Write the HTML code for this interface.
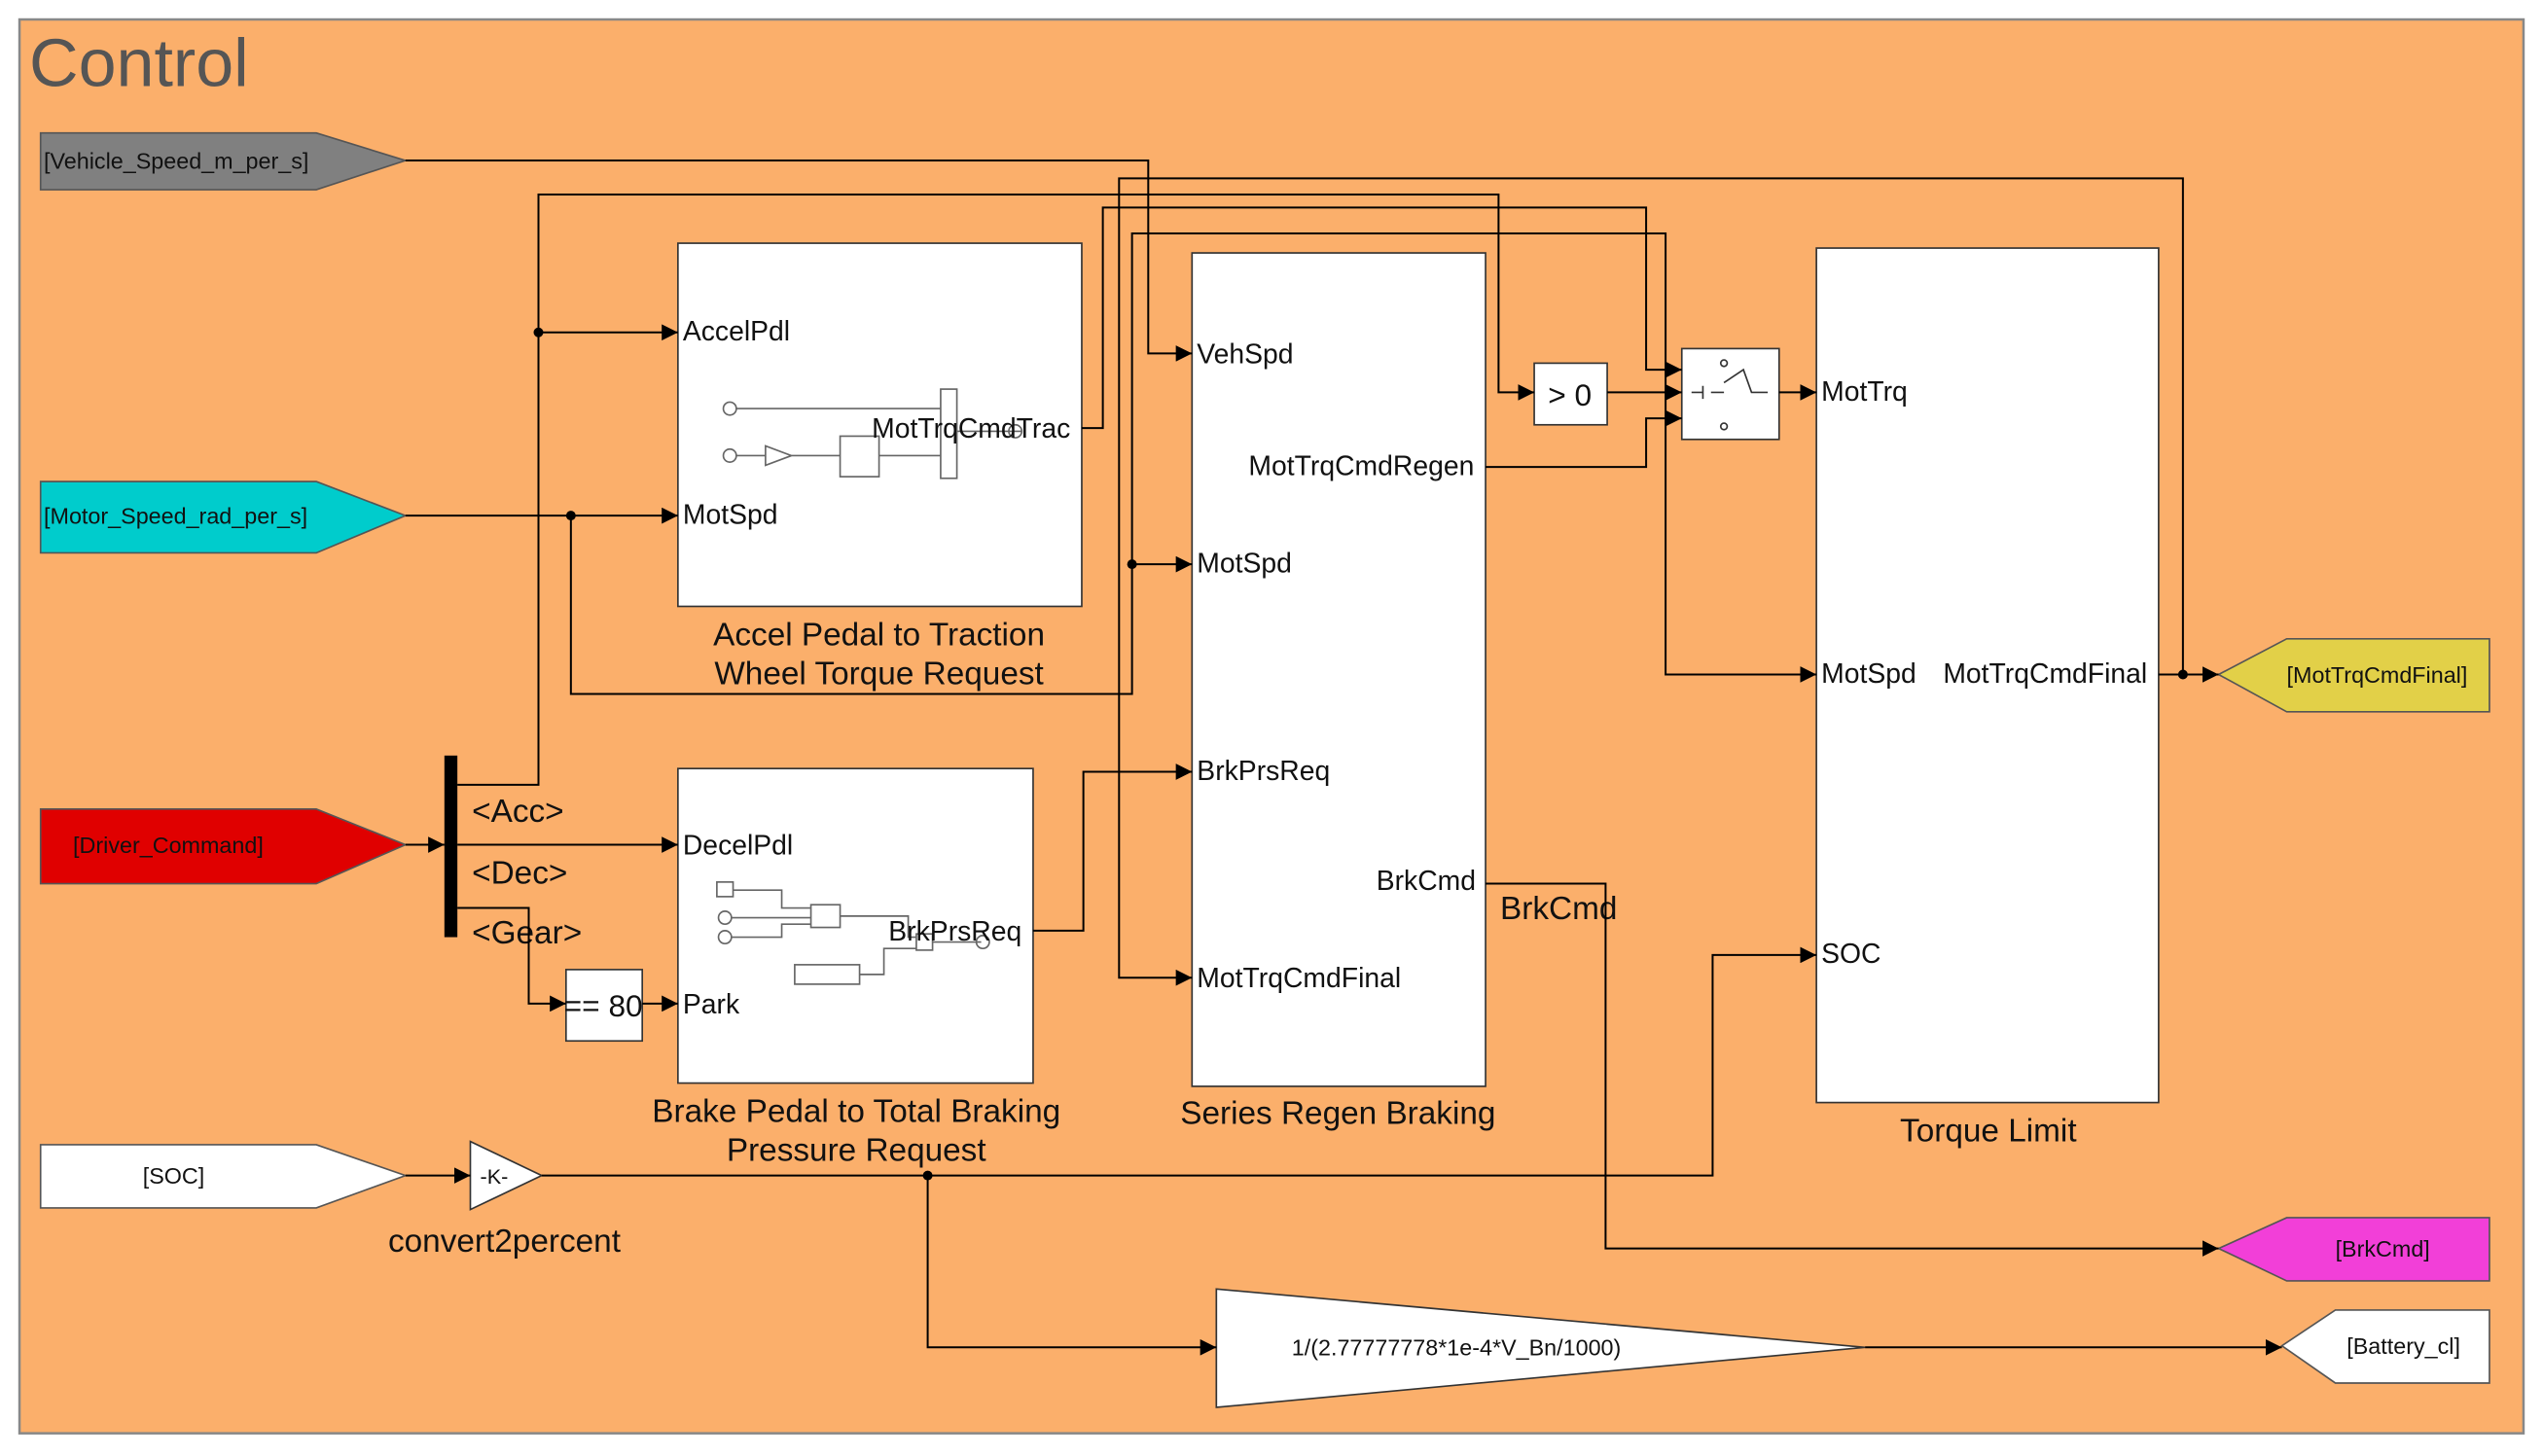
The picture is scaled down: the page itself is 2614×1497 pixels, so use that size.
<!DOCTYPE html>
<html><head><meta charset="utf-8"><style>
html,body{margin:0;padding:0;background:#fff;}
svg{display:block;}
text{font-family:"Liberation Sans",Arial,sans-serif;fill:#111;}
</style></head><body>
<svg width="2614" height="1497" viewBox="0 0 1568 898" xmlns="http://www.w3.org/2000/svg">
<defs>
<marker id="a" viewBox="0 0 10 10" refX="10" refY="5" markerWidth="10" markerHeight="10" orient="auto" markerUnits="userSpaceOnUse">
<path d="M0,0 L10,5 L0,10 z" fill="#000"/></marker>
</defs>
<rect x="12" y="12" width="1544" height="872" fill="#FBAF6B" stroke="#888" stroke-width="1.5"/>
<text x="18" y="53" font-size="42" style="fill:#555">Control</text>

<polygon points="25,82 195,82 250,99 195,117 25,117" fill="#808080" stroke="#555"/>
<text x="27" y="104" font-size="14">[Vehicle_Speed_m_per_s]</text>
<polygon points="25,297 195,297 250,318 195,341 25,341" fill="#00CCCC" stroke="#555"/>
<text x="27" y="323" font-size="14">[Motor_Speed_rad_per_s]</text>
<polygon points="25,499 195,499 250,521 195,545 25,545" fill="#E00000" stroke="#555"/>
<text x="45" y="526" font-size="14">[Driver_Command]</text>
<polygon points="25,706 195,706 250,725 195,745 25,745" fill="#fff" stroke="#555"/>
<text x="88" y="730" font-size="14">[SOC]</text>

<polygon points="1368,416 1410,394 1535,394 1535,439 1410,439" fill="#E2D048" stroke="#555"/>
<text x="1410" y="421" font-size="14">[MotTrqCmdFinal]</text>
<polygon points="1368,770 1410,751 1535,751 1535,790 1410,790" fill="#F23FD8" stroke="#555"/>
<text x="1440" y="775" font-size="14">[BrkCmd]</text>
<polygon points="1407,830 1440,808 1535,808 1535,853 1440,853" fill="#fff" stroke="#555"/>
<text x="1447" y="835" font-size="14">[Battery_cl]</text>

<rect x="418" y="150" width="249" height="224" fill="#fff" stroke="#333"/>
<g stroke="#666" fill="none" stroke-width="1">
<circle cx="450" cy="252" r="4"/><circle cx="450" cy="281" r="4"/>
<path d="M454,252 H580 M454,281 H472 L472,275 L488,281 L472,287 L472,281 M488,281 H518"/>
<rect x="518" y="269" width="24" height="25"/><rect x="580" y="240" width="10" height="55"/>
<path d="M542,281 H580 M590,266 H630"/><circle cx="626" cy="266" r="4"/>
</g>
<text x="421" y="210" font-size="17">AccelPdl</text>
<text x="421" y="323" font-size="17">MotSpd</text>
<text x="660" y="270" font-size="17" text-anchor="end">MotTrqCmdTrac</text>
<text x="542" y="398" font-size="20" text-anchor="middle">Accel Pedal to Traction</text>
<text x="542" y="422" font-size="20" text-anchor="middle">Wheel Torque Request</text>

<rect x="418" y="474" width="219" height="194" fill="#fff" stroke="#333"/>
<g stroke="#666" fill="none">
<rect x="442" y="544" width="10" height="9"/><circle cx="447" cy="566" r="4"/><circle cx="447" cy="578" r="4"/>
<path d="M452,549 H482 V560 H500 M451,566 H500 M451,578 H482 V570 H500"/>
<rect x="500" y="558" width="18" height="14"/><path d="M518,565 H560 V578 H565"/>
<rect x="490" y="595" width="40" height="12"/><path d="M530,601 H545 V585 H565"/>
<rect x="565" y="576" width="10" height="10"/><path d="M575,581 H605"/><circle cx="606" cy="581" r="4"/>
</g>
<text x="421" y="527" font-size="17">DecelPdl</text>
<text x="421" y="625" font-size="17">Park</text>
<text x="630" y="580" font-size="17" text-anchor="end">BrkPrsReq</text>
<text x="528" y="692" font-size="20" text-anchor="middle">Brake Pedal to Total Braking</text>
<text x="528" y="716" font-size="20" text-anchor="middle">Pressure Request</text>

<rect x="735" y="156" width="181" height="514" fill="#fff" stroke="#333"/>
<text x="738" y="224" font-size="17">VehSpd</text>
<text x="909" y="293" font-size="17" text-anchor="end">MotTrqCmdRegen</text>
<text x="738" y="353" font-size="17">MotSpd</text>
<text x="738" y="481" font-size="17">BrkPrsReq</text>
<text x="910" y="549" font-size="17" text-anchor="end">BrkCmd</text>
<text x="738" y="609" font-size="17">MotTrqCmdFinal</text>
<text x="825" y="693" font-size="20" text-anchor="middle">Series Regen Braking</text>

<rect x="1120" y="153" width="211" height="527" fill="#fff" stroke="#333"/>
<text x="1123" y="247" font-size="17">MotTrq</text>
<text x="1123" y="421" font-size="17">MotSpd</text>
<text x="1324" y="421" font-size="17" text-anchor="end">MotTrqCmdFinal</text>
<text x="1123" y="594" font-size="17">SOC</text>
<text x="1226" y="704" font-size="20" text-anchor="middle">Torque Limit</text>

<text x="925" y="567" font-size="20">BrkCmd</text>

<rect x="946" y="224" width="45" height="38" fill="#fff" stroke="#333"/>
<text x="968" y="250" font-size="19" text-anchor="middle">&gt; 0</text>

<rect x="1037" y="215" width="60" height="56" fill="#fff" stroke="#333"/>
<g stroke="#333" fill="none"><path d="M1043,242 H1050 M1050,238 V246 M1055,242 L1063,242 M1063,236 L1075,228 L1080,242 L1090,242"/>
<circle cx="1063" cy="224" r="2"/><circle cx="1063" cy="263" r="2"/></g>

<rect x="349" y="598" width="47" height="44" fill="#fff" stroke="#333"/>
<text x="372" y="627" font-size="19" text-anchor="middle">== 80</text>

<rect x="274" y="466" width="8" height="112" fill="#000"/>
<text x="291" y="507" font-size="20">&lt;Acc&gt;</text>
<text x="291" y="545" font-size="20">&lt;Dec&gt;</text>
<text x="291" y="582" font-size="20">&lt;Gear&gt;</text>

<polygon points="290,704 334,725 290,746" fill="#fff" stroke="#333"/>
<text x="296" y="730" font-size="13">-K-</text>
<text x="311" y="772" font-size="20" text-anchor="middle">convert2percent</text>

<polygon points="750,795 1150,831 750,868" fill="#fff" stroke="#333"/>
<text x="898" y="836" font-size="14" text-anchor="middle">1/(2.77777778*1e-4*V_Bn/1000)</text>

<g stroke="#000" stroke-width="1.2" fill="none">
<path d="M250,99 H708 V218 H735" marker-end="url(#a)"/>
<path d="M282,484 H332 V120 H924 V242 H946" marker-end="url(#a)"/>
<path d="M332,205 H418" marker-end="url(#a)"/>
<path d="M250,318 H418" marker-end="url(#a)"/>
<path d="M352,318 V428 H698 V144 H1027 V416 H1120" marker-end="url(#a)"/>
<path d="M698,348 H735" marker-end="url(#a)"/>
<path d="M667,264 H680 V128 H1015 V228 H1037" marker-end="url(#a)"/>
<path d="M991,242 H1037" marker-end="url(#a)"/>
<path d="M916,288 H1015 V258 H1037" marker-end="url(#a)"/>
<path d="M1097,242 H1120" marker-end="url(#a)"/>
<path d="M1331,416 H1368" marker-end="url(#a)"/>
<path d="M1346,416 V110 H690 V603 H735" marker-end="url(#a)"/>
<path d="M637,574 H668 V476 H735" marker-end="url(#a)"/>
<path d="M250,521 H274" marker-end="url(#a)"/>
<path d="M282,521 H418" marker-end="url(#a)"/>
<path d="M282,560 H326 V619 H349" marker-end="url(#a)"/>
<path d="M396,619 H418" marker-end="url(#a)"/>
<path d="M250,725 H290" marker-end="url(#a)"/>
<path d="M334,725 H1056 V589 H1120" marker-end="url(#a)"/>
<path d="M572,725 V831 H750" marker-end="url(#a)"/>
<path d="M916,545 H990 V770 H1368" marker-end="url(#a)"/>
<path d="M1150,831 H1407" marker-end="url(#a)"/>
</g>
<g fill="#000">
<circle cx="332" cy="205" r="3"/><circle cx="352" cy="318" r="3"/><circle cx="698" cy="348" r="3"/>
<circle cx="1346" cy="416" r="3"/><circle cx="572" cy="725" r="3"/>
</g>
</svg>
</body></html>
